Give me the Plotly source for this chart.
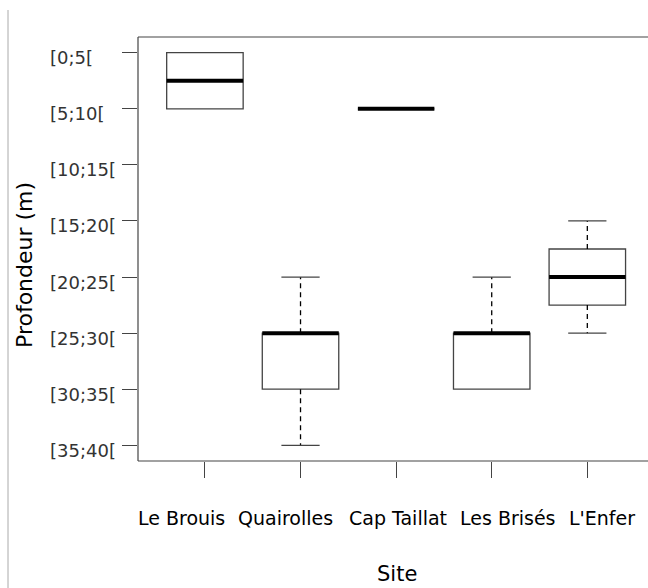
import plotly.graph_objects as go

sites = ["Le Brouis", "Quairolles", "Cap Taillat", "Les Brisés", "L'Enfer"]
depth_labels = ["[0;5[", "[5;10[", "[10;15[", "[15;20[", "[20;25[", "[25;30[", "[30;35[", "[35;40["]
# values are depth-class indices (1 = [0;5[ ... 8 = [35;40[)
lower_whisker = [1, 5, 2, 5, 4]
q1 = [1, 6, 2, 6, 4.5]
median = [1.5, 6, 2, 6, 5]
q3 = [2, 7, 2, 7, 5.5]
upper_whisker = [2, 8, 2, 7, 6]

pos = list(range(1, len(sites) + 1))
levels = list(range(1, len(depth_labels) + 1))

BOX_HALF = 0.4
CAP_HALF = 0.2
LINE_COL = "#444444"

fig = go.Figure()

# boxes
fig.add_trace(go.Box(
    x=pos, q1=q1, median=median, q3=q3,
    lowerfence=q1, upperfence=q3,
    width=2 * BOX_HALF, boxpoints=False,
    fillcolor="white", line=dict(color=LINE_COL, width=1.3),
    whiskerwidth=0, showlegend=False, hoverinfo="skip",
))

# whiskers (dashed) and caps
wx, wy, cx, cy = [], [], [], []
for p, a, b, c, d in zip(pos, lower_whisker, q1, q3, upper_whisker):
    if c != d:
        wx += [p, p, None]; wy += [c, d, None]
        cx += [p - CAP_HALF, p + CAP_HALF, None]; cy += [d, d, None]
    if a != b:
        wx += [p, p, None]; wy += [b, a, None]
        cx += [p - CAP_HALF, p + CAP_HALF, None]; cy += [a, a, None]
fig.add_trace(go.Scatter(x=wx, y=wy, mode="lines", line=dict(color="black", width=1.3, dash="5px,4px"),
                         showlegend=False, hoverinfo="skip"))
fig.add_trace(go.Scatter(x=cx, y=cy, mode="lines", line=dict(color=LINE_COL, width=1.3),
                         showlegend=False, hoverinfo="skip"))

# medians (thick)
mx, my = [], []
for p, m in zip(pos, median):
    mx += [p - BOX_HALF, p + BOX_HALF, None]; my += [m, m, None]
fig.add_trace(go.Scatter(x=mx, y=my, mode="lines", line=dict(color="black", width=4),
                         showlegend=False, hoverinfo="skip"))

W, H = 648, 588
L, T, B, R = 138, 37, 127, 0
pw, ph = W - L - R, H - T - B

def px_x(x):
    return (x - L) / pw

def px_y(y):
    return (H - B - y) / ph

annotations = []
for lv, lab in zip(levels, depth_labels):
    annotations.append(dict(x=px_x(48), xref="paper", y=lv, yref="y", text=lab, showarrow=False,
                            xanchor="left", yanchor="middle", yshift=-5,
                            font=dict(family="DejaVu Sans", size=18, color="#333333")))
# x category labels (placed under each tick, nudged like the reference layout)
label_nudge = [-23, -15, 2, 16, 15]
for p, s, dx in zip(pos, sites, label_nudge):
    annotations.append(dict(x=p, xref="x", y=px_y(518), yref="paper", text=s, showarrow=False,
                            xanchor="center", yanchor="middle", xshift=dx,
                            font=dict(family="DejaVu Sans", size=19, color="black")))
annotations.append(dict(x=px_x(24), xref="paper", y=px_y(265), yref="paper", text="Profondeur (m)",
                        showarrow=False, textangle=-90, xanchor="center", yanchor="middle",
                        font=dict(family="DejaVu Sans", size=22, color="black")))
annotations.append(dict(x=px_x(397), xref="paper", y=px_y(574), yref="paper", text="Site",
                        showarrow=False, xanchor="center", yanchor="middle",
                        font=dict(family="DejaVu Sans", size=21, color="black")))

frame = dict(color=LINE_COL, width=1.2)
fig.update_layout(
    width=W, height=H,
    margin=dict(l=L, r=R, t=T, b=B, pad=0),
    paper_bgcolor="white", plot_bgcolor="white",
    annotations=annotations,
    shapes=[
        dict(type="line", xref="paper", yref="paper", x0=px_x(8), x1=px_x(8),
             y0=px_y(10), y1=px_y(600), line=dict(color="#aaaaaa", width=1)),
        dict(type="line", xref="paper", yref="paper", x0=0, x1=1.02, y0=0, y1=0, line=frame),
        dict(type="line", xref="paper", yref="paper", x0=0, x1=1.02, y0=1, y1=1, line=frame),
        dict(type="line", xref="paper", yref="paper", x0=0, x1=0, y0=0, y1=1, line=frame),
    ],
    xaxis=dict(range=[0.3, 0.3 + pw / 95.6], tickvals=pos, showticklabels=False,
               showgrid=False, zeroline=False, showline=False,
               ticks="outside", ticklen=16,
               tickcolor=LINE_COL, tickwidth=1.2),
    yaxis=dict(range=[8.28, 0.72], tickvals=levels, showticklabels=False,
               showgrid=False, zeroline=False, showline=False,
               ticks="outside", ticklen=15,
               tickcolor=LINE_COL, tickwidth=1.2),
)

fig.write_html("out.html",
               post_script="document.documentElement.style.overflow='hidden';"
                           "document.body.style.overflow='hidden';"
                           "document.body.style.margin='0';")
